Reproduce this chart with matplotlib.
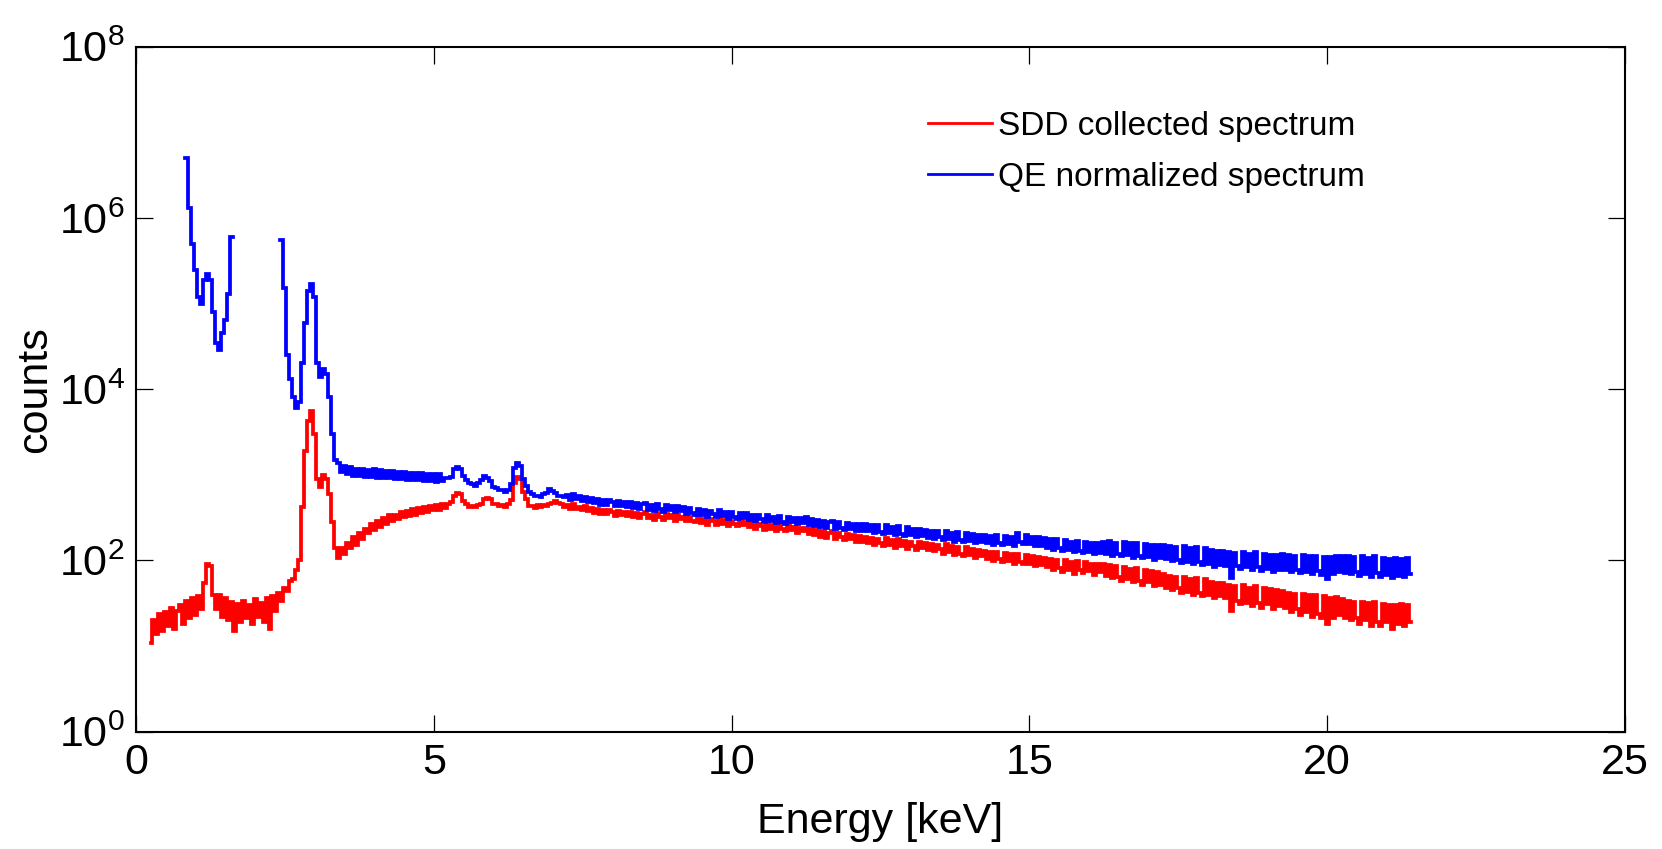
import numpy as np
import matplotlib
matplotlib.use("Agg")
import matplotlib.pyplot as plt
from matplotlib.ticker import NullLocator

nan = np.nan

# channel grid (keV)
E_START = 0.25
E_STEP = 0.05

# SDD collected spectrum (counts), one row = 1 keV (20 channels)
sdd_counts = [
    11, 20, 14, 24, 15, 25, 17, 28, 16, 26, 30, 18, 34, 21, 36, 23, 38, 27, 55, 92,
    85, 40, 27, 40, 22, 36, 20, 33, 15, 31, 19, 34, 21, 30, 18, 35, 22, 32, 19, 36,
    16, 38, 26, 42, 34, 48, 44, 58, 60, 78, 100, 420, 1900, 4300, 5500, 3000, 900, 720, 1000, 900,
    600, 280, 140, 108, 138, 118, 160, 140, 190, 152, 208, 180, 236, 208, 264, 226, 288, 244, 312, 270,
    336, 288, 344, 306, 372, 318, 380, 328, 402, 340, 412, 360, 418, 368, 436, 384, 448, 392, 462, 414,
    455, 478, 565, 610, 596, 492, 452, 420, 436, 418, 448, 462, 528, 534, 518, 462, 458, 430, 440, 416,
    452, 512, 810, 945, 890, 630, 520, 430, 438, 410, 442, 418, 450, 436, 462, 464, 498, 474, 458, 424,
    440, 395, 452, 400, 418, 385, 432, 378, 408, 362, 398, 350, 392, 346, 384, 368, 332, 380, 340, 366,
    330, 372, 326, 358, 316, 350, 368, 312, 344, 300, 356, 322, 298, 348, 310, 336, 290, 340, 306, 324,
    288, 326, 292, 278, 320, 272, 308, 262, 302, 286, 256, 304, 270, 296, 252, 290, 268, 250, 288, 256,
    284, 244, 272, 236, 268, 252, 228, 270, 234, 256, 222, 264, 232, 218, 256, 226, 248, 212, 242, 220,
    242, 204, 234, 198, 226, 188, 220, 182, 210, 222, 176, 208, 190, 172, 206, 178, 198, 166, 194, 164,
    190, 160, 184, 152, 180, 158, 146, 182, 150, 172, 140, 176, 146, 168, 136, 166, 146, 134, 164, 140,
    162, 132, 156, 128, 152, 136, 120, 156, 126, 146, 116, 144, 120, 112, 142, 116, 136, 108, 134, 112,
    130, 104, 124, 98, 126, 104, 96, 122, 98, 118, 92, 120, 96, 90, 116, 92, 112, 86, 110, 88,
    108, 84, 104, 78, 102, 82, 74, 100, 78, 96, 70, 98, 78, 72, 96, 76, 92, 68, 90, 74,
    92, 66, 88, 62, 86, 64, 58, 84, 60, 80, 56, 82, 58, 52, 78, 56, 76, 50, 74, 52,
    70, 48, 66, 45, 64, 48, 42, 64, 43, 60, 40, 62, 42, 38, 60, 40, 56, 36, 55, 38,
    54, 36, 52, 26, 50, 34, 31, 51, 32, 48, 29, 50, 32, 28, 48, 31, 46, 27, 45, 29,
    44, 28, 42, 25, 41, 27, 23, 41, 25, 39, 22, 40, 24, 21, 38, 18, 36, 21, 37, 23,
    35, 21, 34, 20, 33, 21, 18, 33, 20, 32, 17, 33, 19, 17, 31, 19, 30, 16, 30, 18,
    31, 17, 30, 19,
]

# QE normalized spectrum (counts), same channels
qe_counts = [
    nan, nan, nan, nan, nan, nan, nan, nan, nan, nan, nan, nan, 5.0e6, 1.3e6, 5.0e5, 2.5e5, 1.2e5, 1.0e5, 1.9e5, 2.2e5,
    1.9e5, 8.0e4, 3.5e4, 2.9e4, 4.5e4, 6.5e4, 1.3e5, 6.0e5, nan, nan, nan, nan, nan, nan, nan, nan, nan, nan, nan, nan,
    nan, nan, nan, nan, 5.5e5, 1.5e5, 2.5e4, 1.3e4, 8.0e3, 6.0e3, 7.0e3, 2.0e4, 6.0e4, 1.4e5, 1.7e5, 1.2e5, 2.0e4, 1.4e4, 1.7e4, 1.5e4,
    8.0e3, 3.0e3, 1.5e3, 1380, 1080, 1280, 1020, 1220, 980, 1180, 960, 1170, 950, 1150, 940, 1160, 930, 1140, 920, 1110,
    910, 1100, 900, 1090, 890, 1080, 880, 1060, 870, 1050, 860, 1040, 850, 1030, 840, 1020, 830, 1010, 850, 920,
    910, 950, 1160, 1230, 1160, 970, 870, 810, 790, 750, 800, 870, 960, 910, 840, 730, 710, 670, 660, 630,
    670, 790, 1210, 1360, 1260, 890, 740, 630, 595, 560, 570, 545, 590, 610, 675, 640, 610, 560, 570, 545,
    585, 515, 598, 520, 565, 500, 555, 480, 540, 470, 528, 450, 515, 440, 505, 478, 430, 500, 436, 480,
    418, 480, 405, 465, 398, 452, 470, 390, 448, 380, 458, 400, 372, 446, 384, 432, 364, 438, 378, 418,
    352, 412, 358, 342, 404, 336, 390, 326, 382, 346, 318, 384, 330, 372, 308, 366, 324, 304, 362, 312,
    354, 296, 344, 290, 336, 304, 280, 340, 286, 324, 274, 332, 284, 270, 322, 278, 314, 264, 310, 272,
    318, 260, 308, 254, 298, 244, 292, 238, 284, 290, 230, 280, 242, 224, 276, 232, 268, 220, 264, 218,
    268, 218, 262, 210, 256, 216, 204, 258, 208, 246, 198, 252, 204, 194, 244, 200, 236, 188, 232, 192,
    228, 184, 222, 178, 218, 186, 172, 220, 176, 210, 166, 214, 174, 164, 210, 168, 204, 158, 200, 164,
    198, 158, 194, 152, 196, 160, 150, 192, 154, 188, 148, 212, 166, 154, 196, 156, 188, 146, 186, 148,
    184, 140, 178, 134, 176, 138, 128, 172, 132, 166, 124, 170, 130, 122, 164, 126, 160, 118, 158, 122,
    166, 118, 170, 114, 162, 120, 112, 164, 116, 158, 108, 160, 114, 106, 156, 110, 152, 102, 150, 106,
    150, 104, 146, 98, 144, 102, 94, 146, 96, 138, 90, 142, 96, 88, 138, 92, 132, 84, 130, 88,
    128, 86, 124, 62, 122, 86, 80, 126, 84, 120, 78, 124, 84, 76, 120, 80, 116, 74, 116, 78,
    118, 78, 116, 74, 114, 78, 72, 116, 74, 112, 70, 114, 76, 68, 110, 60, 110, 70, 112, 74,
    112, 72, 114, 70, 110, 74, 66, 112, 70, 108, 64, 112, 72, 64, 108, 68, 104, 62, 106, 66,
    104, 64, 106, 70,
]

series_labels = ["SDD collected spectrum", "QE normalized spectrum"]
x_ticks = [0, 5, 10, 15, 20, 25]
y_exponents = [0, 2, 4, 6, 8]

energy = np.round(E_START + E_STEP * np.arange(len(sdd_counts)), 3)

plt.rcParams['font.family'] = ['Liberation Sans', 'DejaVu Sans']
plt.rcParams['mathtext.fontset'] = 'custom'
plt.rcParams['mathtext.rm'] = 'Liberation Sans'
plt.rcParams['mathtext.it'] = 'Liberation Sans:italic'
plt.rcParams['mathtext.bf'] = 'Liberation Sans:bold'

W, H = 1662, 849
fig = plt.figure(figsize=(W / 100, H / 100), dpi=100)
L, R, T, B = 136, 1625, 46.7, 731.7
ax = fig.add_axes([L / W, 1 - B / H, (R - L) / W, (B - T) / H])

ax.plot(energy, np.array(sdd_counts, dtype=float), color=(1, 0, 0), lw=2.7,
        drawstyle='steps-mid', solid_joinstyle='miter', label=series_labels[0])
ax.plot(energy, np.array(qe_counts, dtype=float), color=(0, 0, 1), lw=2.7,
        drawstyle='steps-mid', solid_joinstyle='miter', label=series_labels[1])

ax.set_yscale('log')
ax.set_xlim(0, 25)
ax.set_ylim(1, 1e8)
ax.set_xticks(x_ticks)
ax.set_xticklabels([str(v) for v in x_ticks])
ax.set_yticks([10.0 ** k for k in y_exponents])
ax.set_yticklabels([r'$10^{%d}$' % k for k in y_exponents])
ax.yaxis.set_minor_locator(NullLocator())
ax.xaxis.set_minor_locator(NullLocator())
ax.tick_params(which='major', direction='in', top=True, right=True,
               length=12.5, width=0.9, labelsize=31, pad=8, colors='black')
for s in ax.spines.values():
    s.set_linewidth(1.5)

ax.set_xlabel('Energy [keV]', fontsize=31)
ax.xaxis.set_label_coords(0.5, -0.1026)
ax.set_ylabel('counts', fontsize=31)
ax.yaxis.set_label_coords(-0.0545, 0.5)

leg = ax.legend(loc='upper left', bbox_to_anchor=(0.532, 0.906), frameon=False,
                fontsize=24, handlelength=1.92, handletextpad=0.17, labelspacing=0.6,
                borderpad=0, borderaxespad=0)
for h in leg.get_lines():
    h.set_linewidth(2.0)

fig.savefig('out.png', dpi=100)
